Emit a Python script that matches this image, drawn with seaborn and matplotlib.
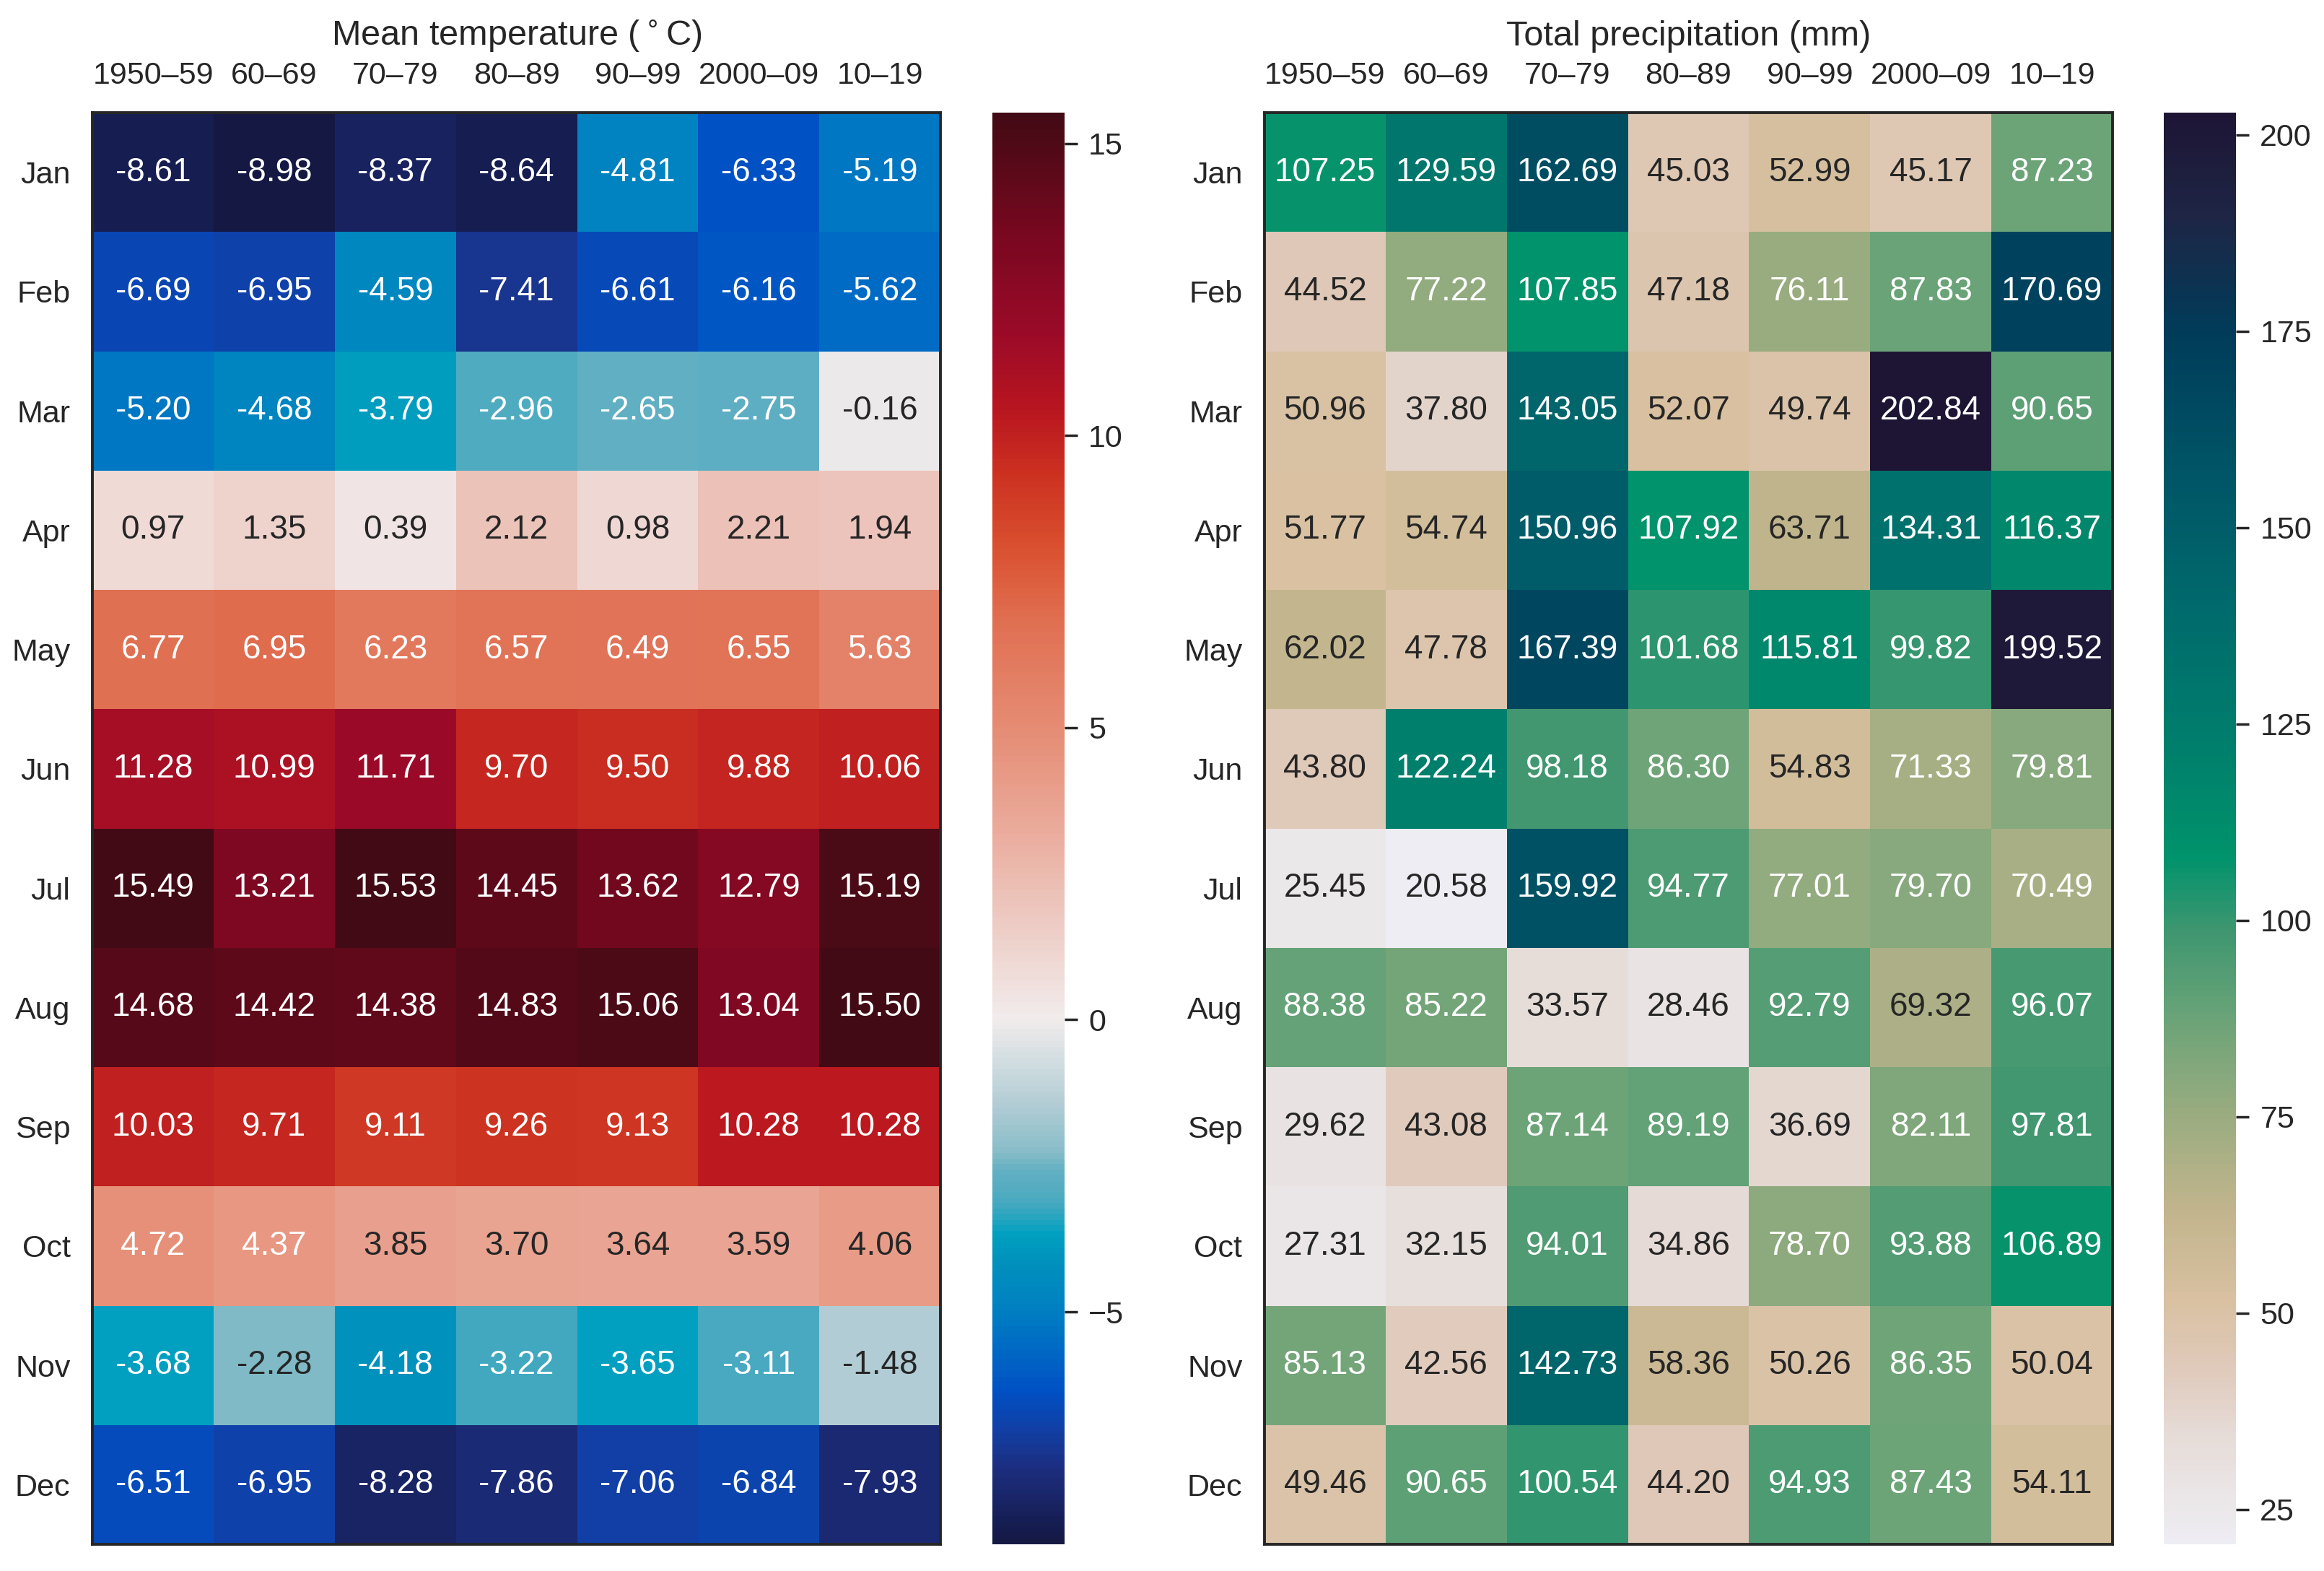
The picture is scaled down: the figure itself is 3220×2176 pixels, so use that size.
import numpy as np
import pandas as pd
import matplotlib
matplotlib.use("Agg")
import matplotlib.pyplot as plt
import seaborn as sns
from matplotlib.colors import LinearSegmentedColormap

"""
Monthly climate normals per decade.
"""
months = ["Jan", "Feb", "Mar", "Apr", "May", "Jun",
          "Jul", "Aug", "Sep", "Oct", "Nov", "Dec"]
decades = ["1950–59", "60–69", "70–79", "80–89", "90–99", "2000–09", "10–19"]

temperature = [
    [-8.61, -8.98, -8.37, -8.64, -4.81, -6.33, -5.19],
    [-6.69, -6.95, -4.59, -7.41, -6.61, -6.16, -5.62],
    [-5.20, -4.68, -3.79, -2.96, -2.65, -2.75, -0.16],
    [0.97, 1.35, 0.39, 2.12, 0.98, 2.21, 1.94],
    [6.77, 6.95, 6.23, 6.57, 6.49, 6.55, 5.63],
    [11.28, 10.99, 11.71, 9.70, 9.50, 9.88, 10.06],
    [15.49, 13.21, 15.53, 14.45, 13.62, 12.79, 15.19],
    [14.68, 14.42, 14.38, 14.83, 15.06, 13.04, 15.50],
    [10.03, 9.71, 9.11, 9.26, 9.13, 10.28, 10.28],
    [4.72, 4.37, 3.85, 3.70, 3.64, 3.59, 4.06],
    [-3.68, -2.28, -4.18, -3.22, -3.65, -3.11, -1.48],
    [-6.51, -6.95, -8.28, -7.86, -7.06, -6.84, -7.93],
]

precipitation = [
    [107.25, 129.59, 162.69, 45.03, 52.99, 45.17, 87.23],
    [44.52, 77.22, 107.85, 47.18, 76.11, 87.83, 170.69],
    [50.96, 37.80, 143.05, 52.07, 49.74, 202.84, 90.65],
    [51.77, 54.74, 150.96, 107.92, 63.71, 134.31, 116.37],
    [62.02, 47.78, 167.39, 101.68, 115.81, 99.82, 199.52],
    [43.80, 122.24, 98.18, 86.30, 54.83, 71.33, 79.81],
    [25.45, 20.58, 159.92, 94.77, 77.01, 79.70, 70.49],
    [88.38, 85.22, 33.57, 28.46, 92.79, 69.32, 96.07],
    [29.62, 43.08, 87.14, 89.19, 36.69, 82.11, 97.81],
    [27.31, 32.15, 94.01, 34.86, 78.70, 93.88, 106.89],
    [85.13, 42.56, 142.73, 58.36, 50.26, 86.35, 50.04],
    [49.46, 90.65, 100.54, 44.20, 94.93, 87.43, 54.11],
]

df_temp = pd.DataFrame(temperature, index=months, columns=decades)
df_prec = pd.DataFrame(precipitation, index=months, columns=decades)

"""
Colour stops (value, colour) for balance-like and rain-like maps.
"""
temp_stops = [
    (-8.98, "#141843"), (-7.7, "#1c2e80"), (-7.0, "#1040a8"),
    (-6.4, "#0050c4"), (-5.6, "#006cc4"), (-4.8, "#0084c0"),
    (-4.2, "#0090bc"), (-3.7, "#00a0c0"), (-3.2, "#44a8bf"),
    (-2.95, "#54acc1"), (-2.6, "#62afc2"), (-2.3, "#86bcc8"),
    (-1.5, "#b0ccd4"), (0.0, "#f1ecec"), (1.8, "#edc8c0"),
    (3.4, "#eaa898"), (5.0, "#e58c74"), (6.9, "#e06e50"),
    (8.1, "#d9502f"), (9.4, "#cc3020"), (10.5, "#b8151f"),
    (11.8, "#9a0a28"), (13.4, "#7a0820"), (15.53, "#420a14"),
]
prec_stops = [
    (20.58, "#eeedf3"), (34.0, "#e6dcd8"), (42.6, "#e0cabb"),
    (52.0, "#d8c0a0"), (63.5, "#c0b48c"), (75.0, "#9aac80"),
    (87.0, "#6ca478"), (98.7, "#3e9670"), (103.5, "#1e956e"),
    (108.0, "#00936b"), (122.0, "#007f6c"), (140.0, "#006a6c"),
    (157.5, "#005466"), (175.0, "#003c5a"), (190.0, "#1e2545"),
    (202.84, "#1e1535"),
]


def make_cmap(name, stops, vmin, vmax):
    pos = [(v - vmin) / (vmax - vmin) for v, _ in stops]
    pos[0], pos[-1] = 0.0, 1.0
    return LinearSegmentedColormap.from_list(name, list(zip(pos, [c for _, c in stops])))


def luminance(rgba):
    rgb = np.asarray(rgba)[:3]
    rgb = np.where(rgb <= .03928, rgb / 12.92, ((rgb + .055) / 1.055) ** 2.4)
    return float(rgb.dot([.2126, .7152, .0722]))


t_min, t_max = df_temp.values.min(), df_temp.values.max()
p_min, p_max = df_prec.values.min(), df_prec.values.max()
cmap_temp = make_cmap("balance_like", temp_stops, t_min, t_max)
cmap_prec = make_cmap("rain_like", prec_stops, p_min, p_max)

sns.set_theme(style="ticks")
plt.rcParams["font.family"] = ["Liberation Sans", "DejaVu Sans"]

fig = plt.figure(figsize=(16.1, 10.88), dpi=200)

panels = [
    (df_temp, cmap_temp, t_min, t_max, "Mean temperature ($^\\circ$C)",
     [0.0398, 0.0170, 0.3649, 0.9113], [0.4270, 0.0170, 0.0311, 0.9113],
     [-5, 0, 5, 10, 15]),
    (df_prec, cmap_prec, p_min, p_max, "Total precipitation (mm)",
     [0.5441, 0.0170, 0.3649, 0.9113], [0.9311, 0.0170, 0.0311, 0.9113],
     [25, 50, 75, 100, 125, 150, 175, 200]),
]

for data, cmap, vmin, vmax, title, pos, cpos, cticks in panels:
    ax = fig.add_axes(pos)
    cax = fig.add_axes(cpos)
    sns.heatmap(data, ax=ax, cbar_ax=cax, cmap=cmap, vmin=vmin, vmax=vmax,
                annot=True, fmt=".2f", annot_kws={"size": 16.5})
    # text colour from cell luminance
    norm = plt.Normalize(vmin, vmax)
    for txt, val in zip(ax.texts, data.values.flat):
        lum = luminance(cmap(norm(val)))
        txt.set_color("white" if lum <= 0.408 else "#262626")
    ax.xaxis.tick_top()
    ax.tick_params(axis="x", length=0, pad=11, labelsize=15.5,
                   top=True, bottom=False, labeltop=True, labelbottom=False)
    ax.tick_params(axis="y", length=0, pad=11, labelsize=15.5)
    plt.setp(ax.get_yticklabels(), rotation=0, va="center_baseline")
    plt.setp(ax.get_xticklabels(), rotation=0)
    for s in ax.spines.values():
        s.set_visible(True)
        s.set_color("#262626")
        s.set_linewidth(1.4)
    ax.set_title(title, fontsize=17.5, pad=8)
    cax.set_yticks(cticks)
    cax.tick_params(length=6.4, width=1.25, pad=5.5, labelsize=15.5)

fig.savefig("out.png", dpi=200)
